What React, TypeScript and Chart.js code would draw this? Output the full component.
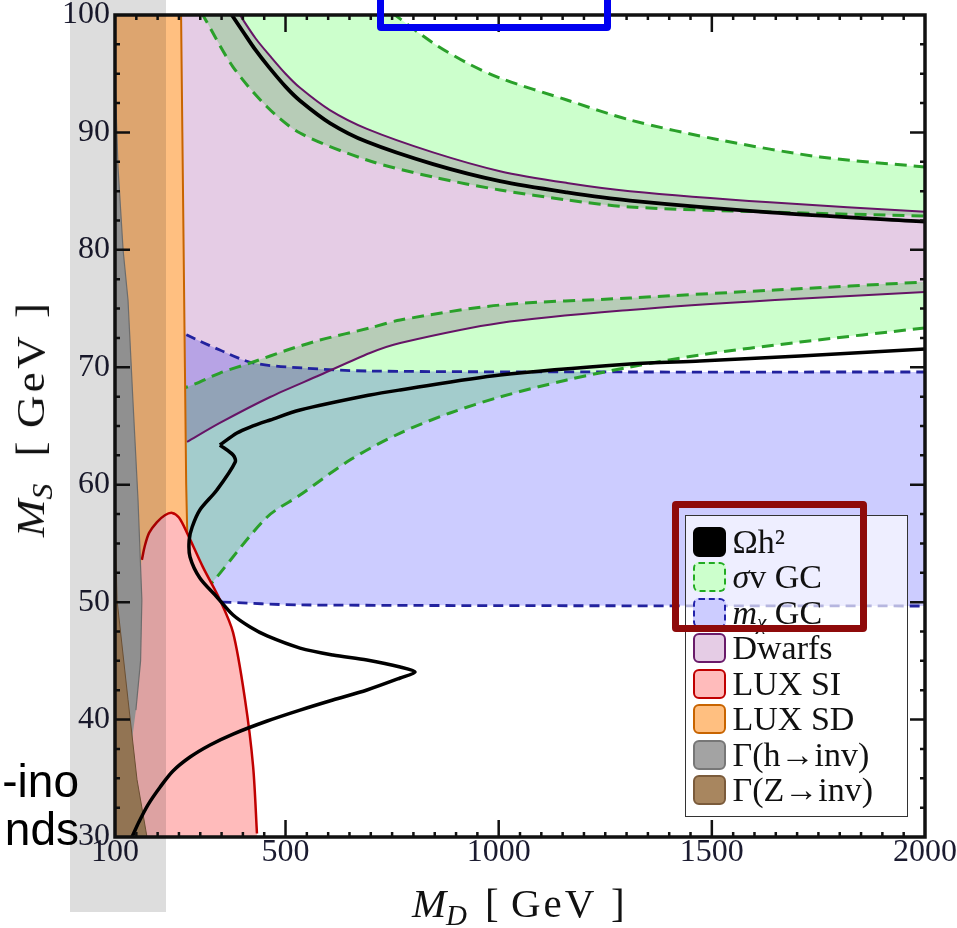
import React, { useEffect, useRef } from 'react';
import { Chart, registerables } from 'chart.js';

// ---------------- data (M_D, M_S in GeV) ----------------
const X_TICK_LABELS = [100, 500, 1000, 1500, 2000];
const Y_TICK_LABELS = [30, 40, 50, 60, 70, 80, 90, 100];
const X_MIN = 100, X_MAX = 2000, Y_MIN = 30, Y_MAX = 100;
const X_MINOR_STEP = 50, X_MAJOR_STEP = 500, Y_MINOR_STEP = 2.5, Y_MAJOR_STEP = 10;
// far-off-axis values used only to close filled regions
const MD_LO = 90, MD_HI = 2100, MS_HI = 106, MS_LO = 25;

// relic density Ωh² (black)
const RELIC_UP_MD = [352, 374, 400, 430, 460, 500, 534, 604, 691, 846, 1003, 1160, 1308, 1636, 2000];
const RELIC_UP_MS = [101.2, 100, 98.6, 97.0, 95.6, 93.9, 92.7, 90.8, 89.2, 87.3, 85.85, 84.9, 84.2, 83.2, 82.4];
// lower branch: part A (right edge to the notch), part B (notch to bottom edge)
const RELIC_LOW_A_MD = [2000, 1707, 1472, 1308, 1003, 769, 698, 534, 464, 417, 386, 346];
const RELIC_LOW_A_MS = [71.56, 70.96, 70.54, 70.28, 69.34, 68.07, 67.64, 66.36, 65.51, 64.91, 64.4, 63.38];
const RELIC_LOW_B_MD = [346, 377, 382, 339, 299, 281, 274, 276, 299, 339, 377, 417, 457, 534, 611, 691, 769, 804, 769, 691, 611, 534, 457, 377, 323, 276, 236, 206, 177, 156, 140, 130];
const RELIC_LOW_B_MS = [63.38, 62.53, 61.93, 59.55, 57.85, 56.4, 55.29, 53.84, 52.05, 50.44, 48.9, 47.88, 47.12, 46.09, 45.5, 45.07, 44.48, 44.05, 43.54, 42.52, 41.67, 40.81, 39.88, 38.77, 37.84, 36.81, 35.62, 34.26, 32.72, 31.27, 30.0, 29.23];

// dwarfs (purple)
const DWARF_UP_MD = [370, 393, 430, 464, 500, 534, 604, 691, 846, 1003, 1160, 1308, 1636, 2000];
const DWARF_UP_MS = [101.3, 100, 98.0, 96.5, 95.0, 93.8, 91.9, 90.3, 88.3, 86.7, 85.7, 85.0, 84.05, 83.25];
const DWARF_LOW_MD = [200, 269, 346, 464, 581, 698, 769, 1003, 1308, 1648, 2000];
const DWARF_LOW_MS = [62.2, 63.64, 65.26, 67.47, 69.34, 71.22, 72.07, 73.77, 74.88, 75.73, 76.41];

// σv GC (green, dashed) – upper band
const SV_OUT_MD = [715, 757, 846, 926, 1003, 1160, 1308, 1519, 1754, 2000];
const SV_OUT_MS = [101.2, 100, 97.62, 95.91, 94.63, 92.76, 91.06, 89.36, 87.91, 87.06];
const SV_IN_MD = [280, 306, 377, 457, 534, 691, 846, 1003, 1160, 1308, 1636, 2000];
const SV_IN_MS = [101.6, 100, 95.57, 92.17, 89.95, 87.65, 86.2, 85.1, 84.25, 83.65, 83.22, 82.88];
// σv GC – lower band
const SV_LOW_UP_MD = [200, 269, 346, 424, 504, 581, 698, 769, 1003, 1308, 1648, 2000];
const SV_LOW_UP_MS = [67.8, 68.32, 69.51, 70.45, 71.47, 72.32, 73.35, 74.03, 75.3, 75.9, 76.58, 77.26];
const SV_LOW_DN_MD = [200, 276, 339, 457, 534, 651, 769, 886, 1003, 1160, 1308, 1472, 1707, 2000];
const SV_LOW_DN_MS = [44, 49.33, 52.14, 57.25, 59.12, 62.1, 64.4, 66.11, 67.47, 68.92, 70.02, 71.05, 72.15, 73.35];

// m_χ GC (blue, dashed)
const MCHI_UP_MD = [200, 269, 346, 424, 541, 698, 1308, 2000];
const MCHI_UP_MS = [74.0, 72.75, 71.47, 70.37, 69.94, 69.68, 69.6, 69.6];
const MCHI_LOW_MD = [200, 353, 534, 2000];
const MCHI_LOW_MS = [50.2, 50.01, 49.76, 49.67];

// LUX SI (pink)
const LUXSI_MD = [100, 140, 163, 170, 180, 198, 217, 234, 250, 269, 306, 346, 377, 405, 424, 433, 434];
const LUXSI_MS = [45, 48, 53.6, 54.8, 55.9, 56.8, 57.4, 57.6, 57.2, 55.9, 53.0, 50.2, 47.4, 41.7, 36.0, 30.3, 28];
// LUX SD (orange) right edge
const LUXSD_MD = [255, 255, 258, 261, 264, 267, 270, 272, 274, 274];
const LUXSD_MS = [106, 100, 90, 80, 70, 60, 55, 45, 30, 25];
// Γ(h→inv) (grey)
const HINV_MD = [100, 107, 119, 130.5, 142, 154, 163, 160, 149, 110];
const HINV_MS = [94.9, 87.06, 79.99, 75.73, 67.2, 58.7, 50.2, 45, 40.8, 30];
// Γ(Z→inv) (brown)
const ZINV_MD = [100, 104.7, 130.5, 151.6, 175, 182];
const ZINV_MS = [57.6, 50.2, 41.7, 34.9, 30, 28];

// legend
const LEGEND_LABELS = ['Ωh²', 'σv GC', 'mχ GC', 'Dwarfs', 'LUX SI', 'LUX SD', 'Γ(h→inv)', 'Γ(Z→inv)'];
const LEGEND_FILL = ['#000000', '#CCFFCC', '#CCCCFF', '#E5CCE5', '#FFBBBB', '#FFBF80', '#A3A3A3', '#A8865F'];
const LEGEND_EDGE = ['#000000', '#22AA22', '#2222AA', '#6A1B6A', '#C00000', '#C86400', '#777777', '#7B5B3B'];
const LEGEND_DASHED = [false, true, true, false, false, false, false, false];

// ---------------- helpers ----------------
type Pt = { x: number; y: number };
const P = (xs: number[], ys: number[]): Pt[] => xs.map((x, i) => ({ x, y: ys[i] }));
const rev = (a: Pt[]) => a.slice().reverse();

const regionBlend = {
  id: 'regionBlend',
  beforeDatasetDraw(chart: any, args: any) {
    const ds = chart.data.datasets[args.index];
    if (ds && ds.blendMode) {
      chart.ctx.save();
      chart.ctx.globalCompositeOperation = ds.blendMode;
    }
  },
  afterDatasetDraw(chart: any, args: any) {
    const ds = chart.data.datasets[args.index];
    if (ds && ds.blendMode) chart.ctx.restore();
  },
};
Chart.register(regionBlend);
Chart.register(...registerables);

const frameTicks = {
  id: 'frameTicks',
  afterDatasetsDraw(chart: any) {
    const { ctx, chartArea: a } = chart;
    const xs = chart.scales.x, ys = chart.scales.y;
    ctx.save();
    ctx.strokeStyle = '#111';
    ctx.lineWidth = 2.5;
    ctx.beginPath();
    for (let v = X_MIN + X_MINOR_STEP; v < X_MAX; v += X_MINOR_STEP) {
      const p = xs.getPixelForValue(v);
      const len = v % X_MAJOR_STEP === 0 ? 17 : 5;
      ctx.moveTo(p, a.bottom); ctx.lineTo(p, a.bottom - len);
      ctx.moveTo(p, a.top); ctx.lineTo(p, a.top + len);
    }
    for (let v = Y_MIN + Y_MINOR_STEP; v < Y_MAX; v += Y_MINOR_STEP) {
      const p = ys.getPixelForValue(v);
      const len = v % Y_MAJOR_STEP === 0 ? 15 : 5;
      ctx.moveTo(a.left, p); ctx.lineTo(a.left + len, p);
      ctx.moveTo(a.right, p); ctx.lineTo(a.right - len, p);
    }
    ctx.stroke();
    ctx.lineWidth = 3.5;
    ctx.strokeRect(a.left, a.top, a.right - a.left, a.bottom - a.top);
    ctx.restore();
  },
};

function fillDs(data: Pt[], color: string, tension: number, blend?: string) {
  return { data, fill: 'shape', backgroundColor: color, borderColor: color, borderWidth: 0, pointRadius: 0, tension, blendMode: blend };
}
function lineDs(data: Pt[], color: string, width: number, tension: number, dash?: number[]) {
  return { data, fill: false, borderColor: color, backgroundColor: color, borderWidth: width, borderDash: dash || [], pointRadius: 0, tension, borderCapStyle: 'butt', borderJoinStyle: 'round' };
}

function buildDatasets() {
  const relicUp = P(RELIC_UP_MD, RELIC_UP_MS);
  const relicLowA = P(RELIC_LOW_A_MD, RELIC_LOW_A_MS);
  const relicLowB = P(RELIC_LOW_B_MD, RELIC_LOW_B_MS);
  const dUp = P(DWARF_UP_MD, DWARF_UP_MS);
  const dLow = P(DWARF_LOW_MD, DWARF_LOW_MS);
  const svOut = P(SV_OUT_MD, SV_OUT_MS);
  const svIn = P(SV_IN_MD, SV_IN_MS);
  const svLU = P(SV_LOW_UP_MD, SV_LOW_UP_MS);
  const svLD = P(SV_LOW_DN_MD, SV_LOW_DN_MS);
  const mUp = P(MCHI_UP_MD, MCHI_UP_MS);
  const mLow = P(MCHI_LOW_MD, MCHI_LOW_MS);
  const luxsi = P(LUXSI_MD, LUXSI_MS);
  const luxsd = P(LUXSD_MD, LUXSD_MS);
  const hinv = P(HINV_MD, HINV_MS);
  const zinv = P(ZINV_MD, ZINV_MS);

  const last = (a: Pt[]) => a[a.length - 1];
  const greenUpPoly = [...svIn, { x: MD_HI, y: last(svIn).y }, { x: MD_HI, y: last(svOut).y }, ...rev(svOut), { x: svOut[0].x, y: MS_HI }, { x: svIn[0].x, y: MS_HI }];
  const greenLowPoly = [...svLU, { x: MD_HI, y: last(svLU).y }, { x: MD_HI, y: last(svLD).y }, ...rev(svLD)];
  const bluePoly = [...mUp, { x: MD_HI, y: last(mUp).y }, { x: MD_HI, y: last(mLow).y }, ...rev(mLow)];
  const dwarfPoly = [...dUp, { x: MD_HI, y: last(dUp).y }, { x: MD_HI, y: last(dLow).y }, ...rev(dLow), { x: MD_LO, y: dLow[0].y }, { x: MD_LO, y: MS_HI }, { x: dUp[0].x, y: MS_HI }];
  const luxsiPoly = [{ x: MD_LO, y: luxsi[0].y }, ...luxsi, { x: MD_LO, y: MS_LO }];
  const luxsdPoly = [{ x: MD_LO, y: MS_HI }, ...luxsd, { x: MD_LO, y: MS_LO }];
  const hinvPoly = [{ x: MD_LO, y: hinv[0].y + 1 }, ...hinv, { x: MD_LO, y: last(hinv).y }];
  const zinvPoly = [{ x: MD_LO, y: zinv[0].y }, ...zinv, { x: MD_LO, y: last(zinv).y }];

  const GREEN = '#2AA02A', BLUE = '#22229E', PURPLE = '#661466';
  return [
    lineDs(relicUp, '#000', 3.8, 0.3),
    lineDs(relicLowA, '#000', 3.5, 0.3),
    lineDs(relicLowB, '#000', 3.5, 0.3),
    lineDs(zinv.slice(0, 5), '#7B5B3B', 1, 0),
    fillDs(zinvPoly, '#A8865F', 0),
    lineDs(hinv.slice(0, 9), '#7d7d7d', 1.2, 0),
    fillDs(hinvPoly, '#A6A6A6', 0),
    lineDs(luxsi.slice(2, 16), '#C00000', 2.5, 0.3),
    fillDs(luxsiPoly, '#FFBBBB', 0.3),
    lineDs(luxsd.slice(1, 9), '#C86400', 2, 0),
    fillDs(luxsdPoly, '#FFBF80', 0),
    lineDs(dUp, PURPLE, 2, 0.3),
    lineDs(dLow.slice(1), PURPLE, 2, 0.3),
    lineDs(svOut, GREEN, 3, 0.3, [12, 7]),
    lineDs(svIn, GREEN, 3, 0.3, [12, 7]),
    lineDs(svLU, GREEN, 3, 0.3, [12, 7]),
    lineDs(svLD, GREEN, 3, 0.3, [12, 7]),
    lineDs(mUp, BLUE, 2.8, 0.3, [10, 6]),
    lineDs(mLow, BLUE, 2.8, 0.3, [10, 6]),
    fillDs(greenUpPoly, '#CCFFCC', 0.3, 'multiply'),
    fillDs(greenLowPoly, '#CCFFCC', 0.3, 'multiply'),
    fillDs(bluePoly, '#CCCCFF', 0.3, 'multiply'),
    fillDs(dwarfPoly, '#E5CCE5', 0.3, 'multiply'),
  ];
}

const SERIF = '"Liberation Serif", "DejaVu Serif", serif';

function renderLabel(s: string) {
  if (s.startsWith('σ')) return (<><i>σ</i>{s.slice(1)}</>);
  if (s.startsWith('mχ')) return (<><i>m</i><sub style={{ fontSize: '0.62em', verticalAlign: '-0.25em', lineHeight: 0 }}><i>χ</i></sub>{s.slice(2)}</>);
  return s;
}

function AxisTitle({ sub, style }: { sub: string; style: React.CSSProperties }) {
  const f: React.CSSProperties = { position: 'absolute', top: 0, fontFamily: SERIF, fontSize: 41, lineHeight: '50px', whiteSpace: 'pre', color: '#111' };
  return (
    <div style={{ position: 'absolute', width: 230, height: 50, ...style }}>
      <span style={{ ...f, left: 0, fontStyle: 'italic' }}>M</span>
      <span style={{ ...f, left: 34, top: 12, fontStyle: 'italic', fontSize: 29 }}>{sub}</span>
      <span style={{ ...f, left: 73 }}>[</span>
      <span style={{ ...f, left: 99, letterSpacing: 3 }}>GeV</span>
      <span style={{ ...f, left: 199 }}>]</span>
    </div>
  );
}

export default function App() {
  const ref = useRef<HTMLCanvasElement>(null);
  useEffect(() => {
    const tickFont = { family: SERIF, size: 32, lineHeight: 1 };
    const chart = new Chart(ref.current as HTMLCanvasElement, {
      type: 'line',
      data: { datasets: buildDatasets() as any },
      options: {
        animation: false,
        responsive: false,
        devicePixelRatio: 1,
        events: [],
        layout: { padding: { top: 15, right: 32, left: 0, bottom: 0 } },
        elements: { point: { radius: 0 }, line: { capBezierPoints: false } },
        plugins: { legend: { display: false }, tooltip: { enabled: false } },
        scales: {
          x: {
            type: 'linear', min: X_MIN, max: X_MAX,
            grid: { display: false, drawTicks: false }, border: { display: false },
            afterBuildTicks: (s: any) => { s.ticks = X_TICK_LABELS.map((v) => ({ value: v })); },
            afterFit: (s: any) => { s.height = 91; s.paddingLeft = 0; s.paddingRight = 0; },
            ticks: { font: tickFont, color: '#1b1b30', padding: 0, maxRotation: 0, autoSkip: false, callback: (v: any) => String(v) },
          },
          y: {
            type: 'linear', min: Y_MIN, max: Y_MAX,
            grid: { display: false, drawTicks: false }, border: { display: false },
            afterBuildTicks: (s: any) => { s.ticks = Y_TICK_LABELS.map((v) => ({ value: v })); },
            afterFit: (s: any) => { s.width = 115; s.paddingTop = 0; s.paddingBottom = 0; },
            ticks: { font: tickFont, color: '#1b1b30', padding: 5, autoSkip: false, callback: (v: any) => String(v) },
          },
        },
      } as any,
      plugins: [frameTicks],
    });
    return () => chart.destroy();
  }, []);

  return (
    <div style={{ position: 'absolute', left: 0, top: 0, width: 957, height: 928, overflow: 'hidden', background: '#fff' }}>
      <canvas ref={ref} width={957} height={928} style={{ position: 'absolute', left: 0, top: 0 }} />

      {/* legend */}
      <div style={{ position: 'absolute', left: 685, top: 515, width: 223, height: 302, boxSizing: 'border-box', background: 'rgba(255,255,255,0.67)', border: '1.5px solid #333' }}>
        {LEGEND_LABELS.map((lab, i) => (
          <div key={lab} style={{ position: 'absolute', left: 6.5, top: 10.5 + i * 35.5, height: 30, whiteSpace: 'nowrap' }}>
            <div style={{ position: 'absolute', left: 0, top: 0, width: 33, height: 30, boxSizing: 'border-box', background: LEGEND_FILL[i], border: `2px ${LEGEND_DASHED[i] ? 'dashed' : 'solid'} ${LEGEND_EDGE[i]}`, borderRadius: 6 }} />
            <div style={{ position: 'absolute', left: 40, top: 0, fontFamily: SERIF, fontSize: 34, lineHeight: '30px', color: '#111' }}>{renderLabel(lab)}</div>
          </div>
        ))}
      </div>

      {/* axis titles */}
      <AxisTitle sub="D" style={{ left: 412, top: 878 }} />
      <AxisTitle sub="S" style={{ left: 5, top: 537, transform: 'rotate(-90deg) scaleX(1.1)', transformOrigin: '0 0' }} />

      {/* slide overlay elements */}
      <div style={{ position: 'absolute', left: 70, top: 0, width: 96, height: 912, background: '#DDDDDD', mixBlendMode: 'multiply' }} />
      <div style={{ position: 'absolute', left: -120, top: 757, width: 199, textAlign: 'right', fontFamily: '"Liberation Sans", Arial, sans-serif', fontSize: 46, lineHeight: '48px', color: '#000' }}>-ino</div>
      <div style={{ position: 'absolute', left: -120, top: 805, width: 199, textAlign: 'right', fontFamily: '"Liberation Sans", Arial, sans-serif', fontSize: 46, lineHeight: '48px', color: '#000' }}>nds</div>
      <div style={{ position: 'absolute', left: 377, top: -25, width: 234, height: 56, boxSizing: 'border-box', border: '7px solid #0000F0', borderRadius: 4 }} />
      <div style={{ position: 'absolute', left: 672, top: 501, width: 195, height: 131, boxSizing: 'border-box', border: '7px solid #8E0A0A', borderRadius: 4 }} />
    </div>
  );
}
